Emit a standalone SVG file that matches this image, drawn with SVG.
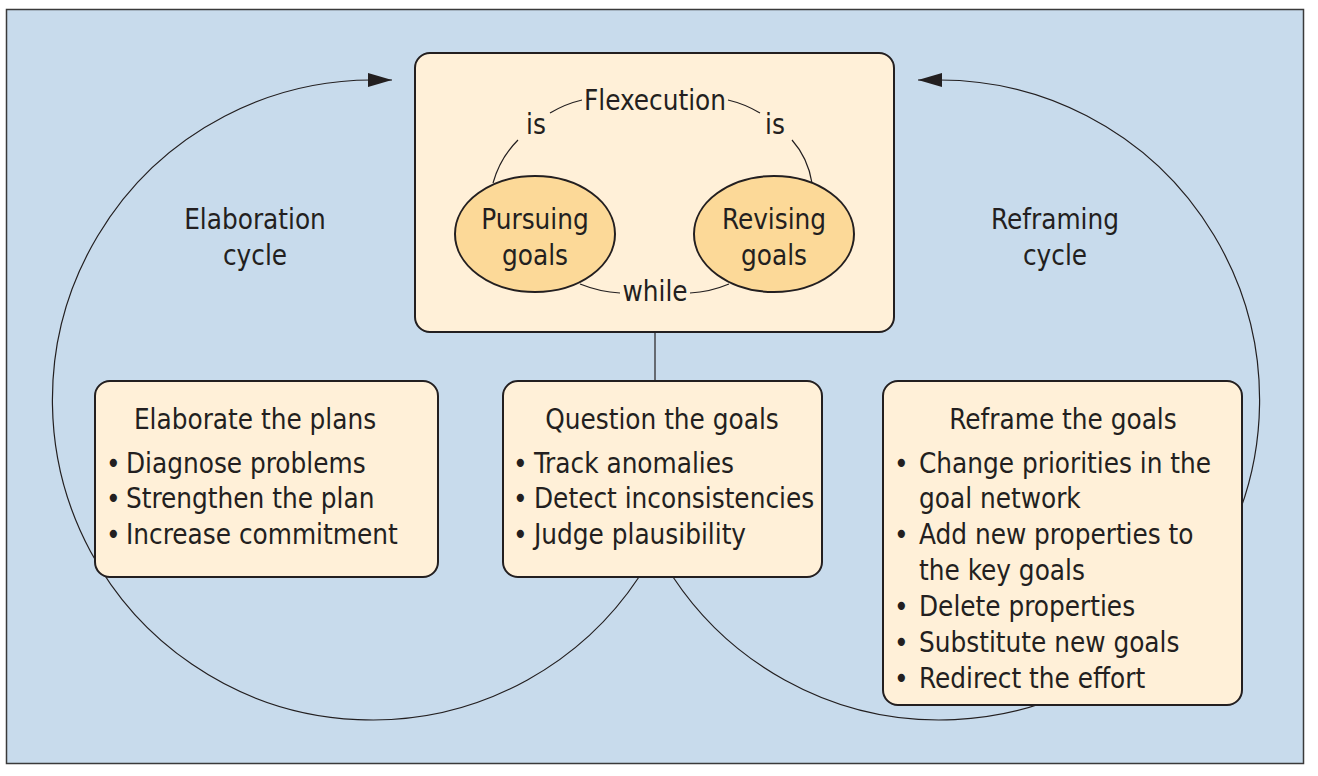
<svg xmlns="http://www.w3.org/2000/svg" width="1318" height="776" viewBox="0 0 1318 776">
<defs>
<style>
.t{font-family:"DejaVu Sans Condensed","DejaVu Sans","Liberation Sans",sans-serif;font-stretch:semi-condensed;font-size:27.6px;fill:#231f20}
.c{text-anchor:middle}
.box{fill:#fff0d8;stroke:#231f20;stroke-width:2}
.ell{fill:#fcd998;stroke:#231f20;stroke-width:2}
.ln{fill:none;stroke:#231f20;stroke-width:1.2}
</style>
<marker id="ah" viewBox="0 0 24 14" refX="24" refY="7" markerWidth="24" markerHeight="14" markerUnits="userSpaceOnUse" orient="auto">
<path d="M0 0 L24 7 L0 14 Z" fill="#231f20"/>
</marker>
</defs>
<rect x="0" y="0" width="1318" height="776" fill="#ffffff"/>
<rect x="6.5" y="9.5" width="1297" height="754" fill="#c8dbec" stroke="#3a3a3a" stroke-width="1.5"/>

<g id="connectors">
<path class="ln" d="M639 577 A320 320 0 1 1 372 80 L392 80" marker-end="url(#ah)"/>
<path class="ln" d="M673 577 A320 320 0 1 0 939 80 L918 80" marker-end="url(#ah)"/>
<line class="ln" x1="655" y1="332" x2="655" y2="381"/>
</g>

<g id="cycle-labels">
<text class="t c" x="255" y="229">Elaboration</text>
<text class="t c" x="255" y="265">cycle</text>
<text class="t c" x="1055" y="229">Reframing</text>
<text class="t c" x="1055" y="265">cycle</text>
</g>

<g id="flexecution">
<rect class="box" x="415" y="53" width="479" height="279" rx="15"/>
<path class="ln" d="M493 183 Q500 158 518 140"/>
<path class="ln" d="M550 113 Q565 104 582 100"/>
<path class="ln" d="M728 100 Q745 104 760 113"/>
<path class="ln" d="M792 140 Q808 158 812 183"/>
<path class="ln" d="M580 284 Q600 292 620 293"/>
<path class="ln" d="M690 293 Q710 292 729 284"/>
<text class="t c" x="655" y="110">Flexecution</text>
<text class="t c" x="536" y="134">is</text>
<text class="t c" x="775" y="134">is</text>
<text class="t c" x="655" y="301">while</text>
</g>

<g id="pursuing">
<ellipse class="ell" cx="535" cy="234" rx="80" ry="58"/>
<text class="t c" x="535" y="229">Pursuing</text>
<text class="t c" x="535" y="265">goals</text>
</g>

<g id="revising">
<ellipse class="ell" cx="774" cy="234" rx="80" ry="58"/>
<text class="t c" x="774" y="229">Revising</text>
<text class="t c" x="774" y="265">goals</text>
</g>

<g id="elaborate">
<rect class="box" x="95" y="381" width="343" height="196" rx="15"/>
<text class="t c" x="255" y="429">Elaborate the plans</text>
<text class="t" y="473"><tspan x="106">•</tspan><tspan x="126">Diagnose problems</tspan></text>
<text class="t" y="508"><tspan x="106">•</tspan><tspan x="126">Strengthen the plan</tspan></text>
<text class="t" y="544"><tspan x="106">•</tspan><tspan x="126">Increase commitment</tspan></text>
</g>

<g id="question">
<rect class="box" x="503" y="381" width="319" height="196" rx="15"/>
<text class="t c" x="662" y="429">Question the goals</text>
<text class="t" y="473"><tspan x="513">•</tspan><tspan x="534">Track anomalies</tspan></text>
<text class="t" y="508"><tspan x="513">•</tspan><tspan x="534">Detect inconsistencies</tspan></text>
<text class="t" y="544"><tspan x="513">•</tspan><tspan x="534">Judge plausibility</tspan></text>
</g>

<g id="reframe">
<rect class="box" x="883" y="381" width="359" height="324" rx="15"/>
<text class="t c" x="1063" y="429">Reframe the goals</text>
<text class="t" y="473"><tspan x="894">•</tspan><tspan x="919">Change priorities in the</tspan></text>
<text class="t" y="508"><tspan x="919">goal network</tspan></text>
<text class="t" y="544"><tspan x="894">•</tspan><tspan x="919">Add new properties to</tspan></text>
<text class="t" y="580"><tspan x="919">the key goals</tspan></text>
<text class="t" y="616"><tspan x="894">•</tspan><tspan x="919">Delete properties</tspan></text>
<text class="t" y="652"><tspan x="894">•</tspan><tspan x="919">Substitute new goals</tspan></text>
<text class="t" y="688"><tspan x="894">•</tspan><tspan x="919">Redirect the effort</tspan></text>
</g>
</svg>
